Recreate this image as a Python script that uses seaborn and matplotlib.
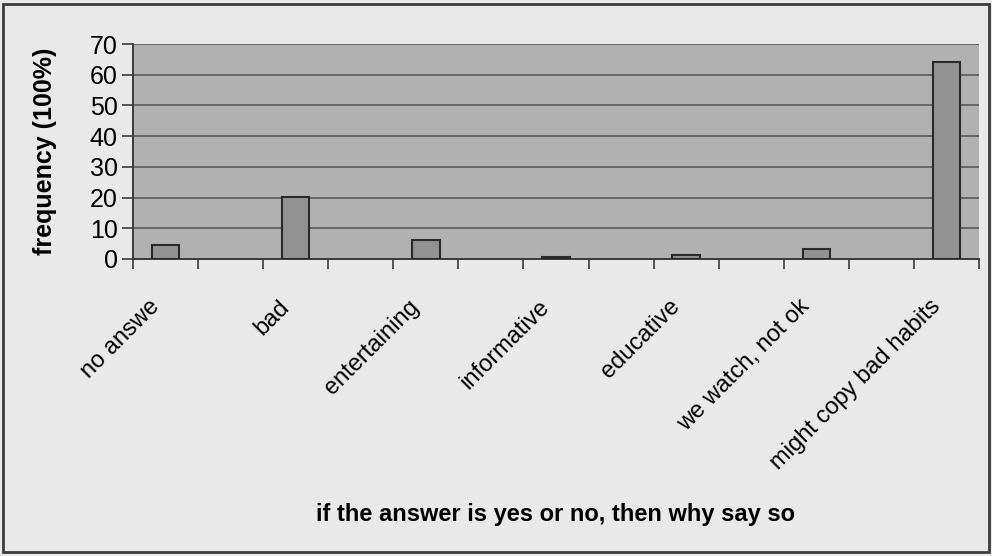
import numpy as np
import pandas as pd
import matplotlib
matplotlib.use("Agg")
import matplotlib.pyplot as plt
from matplotlib.patches import Rectangle
from matplotlib.transforms import ScaledTranslation
import seaborn as sns

# Reasons given for the answer (frequency in percent)
categories = ["no answe", "bad", "entertaining", "informative",
              "educative", "we watch, not ok", "might copy bad habits"]
values = [4.4, 20.2, 6.3, 0.6, 1.3, 3.4, 64.3]
y_ticks = [0, 10, 20, 30, 40, 50, 60, 70]

x_title = "if the answer is yes or no, then why say so"
y_title = "frequency (100%)"

sns.set_theme(style="ticks")
plt.rcParams["font.family"] = ["Liberation Sans", "DejaVu Sans"]
plt.rcParams["text.color"] = "black"
plt.rcParams["axes.labelcolor"] = "black"
plt.rcParams["xtick.labelcolor"] = "black"
plt.rcParams["ytick.labelcolor"] = "black"

W, H = 992, 556
fig = plt.figure(figsize=(W / 100, H / 100), dpi=100)
fig.patch.set_facecolor("#e9e9e9")

left, right, top, bottom = 133, 979, 44, 259
ax = fig.add_axes([left / W, 1 - bottom / H, (right - left) / W, (bottom - top) / H])
ax.set_facecolor("#b1b1b1")

# every answer occupies every second slot on the category axis
slots = np.arange(len(categories)) * 2
df = pd.DataFrame({"slot": slots, "value": values, "reason": categories})

sns.barplot(data=df, x="slot", y="value", native_scale=True, width=0.21,
            color="#929292", edgecolor="#2a2a2a", linewidth=1.5,
            saturation=1, ax=ax, zorder=3)

n_slots = 2 * len(categories) - 1
ax.set_xlim(-0.5, n_slots - 0.5)
ax.set_ylim(0, 70)
ax.set_yticks(y_ticks)
ax.yaxis.grid(True, color="#5a5a5a", linewidth=1.2, zorder=1)
ax.set_axisbelow(True)

# boundary ticks between slots, labels centred on the bars
ax.set_xticks(np.arange(-0.5, n_slots, 1.0))
ax.set_xticklabels([])
ax.set_xticks(slots, labels=categories, minor=True)
ax.tick_params(axis="x", which="major", direction="out", length=7, width=1.2,
               color="#3a3a3a")
ax.tick_params(axis="x", which="minor", length=0, pad=32, labelsize=17,
               labelcolor="black")
nudge = ScaledTranslation(-7 / 72, 0, fig.dpi_scale_trans)
for lab in ax.get_xticklabels(minor=True):
    lab.set_rotation(45)
    lab.set_ha("right")
    lab.set_va("center")
    lab.set_rotation_mode("anchor")
    lab.set_transform(lab.get_transform() + nudge)

ax.tick_params(axis="y", direction="out", length=8, width=1.2, color="#3a3a3a",
               labelsize=18, pad=3, labelcolor="black")

for side in ("top", "right"):
    ax.spines[side].set_visible(False)
for side in ("left", "bottom"):
    ax.spines[side].set_color("#3a3a3a")
    ax.spines[side].set_linewidth(1.4)

ax.set_xlabel(x_title, fontsize=17, fontweight="bold", va="center",
              color="black")
ax.xaxis.set_label_coords(0.5, (bottom - 514) / (bottom - top))
ax.set_ylabel(y_title, fontsize=18, fontweight="bold", va="center",
              color="black")
ax.yaxis.set_label_coords((45 - left) / (right - left), 0.5)

# frame around the whole chart
fig.add_artist(Rectangle((3 / W, 4 / H), (989 - 3) / W, (552 - 4) / H,
                         transform=fig.transFigure, fill=False,
                         edgecolor="#3c3c3c", linewidth=2))

fig.savefig("out.png", dpi=100, facecolor=fig.get_facecolor())
